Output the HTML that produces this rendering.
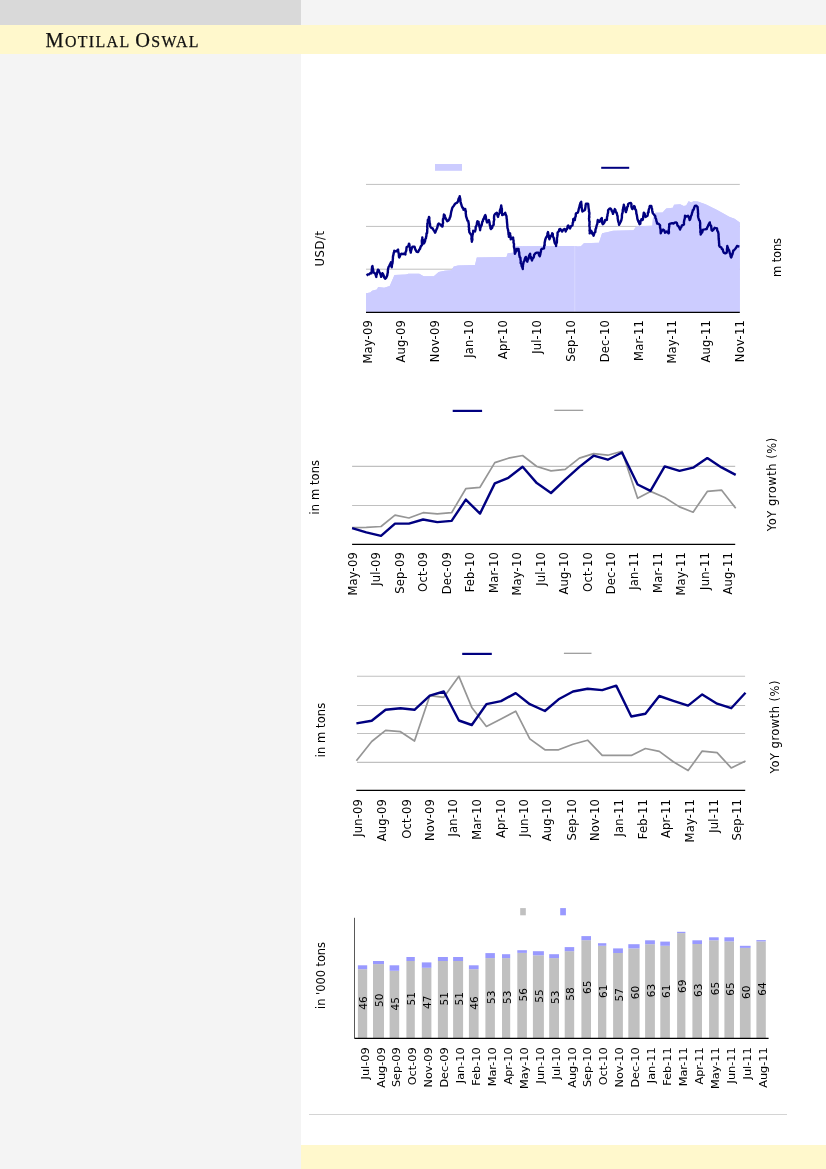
<!DOCTYPE html>
<html lang="en">
<head>
<meta charset="utf-8">
<title>Motilal Oswal</title>
<style>
html, body { margin: 0; padding: 0; }
body { width: 826px; height: 1169px; position: relative; background: #ffffff; overflow: hidden; }
.abs { position: absolute; }
#topgrey { left: 0; top: 0; width: 301px; height: 25px; background: #d9d9d9; }
#toplight { left: 301px; top: 0; width: 525px; height: 25px; background: #f4f4f4; }
#side { left: 0; top: 53px; width: 301px; height: 1116px; background: #f4f4f4; }
#band { left: 0; top: 25px; width: 826px; height: 28.5px; background: #fff8cc; }
#foot { left: 301px; top: 1145px; width: 525px; height: 24px; background: #fff8cc; }
#rule { left: 309px; top: 1114px; width: 478px; height: 1px; background: #d4d4d4; }
#brand { left: 45.5px; top: 26px; height: 28px; line-height: 28px; white-space: nowrap;
  font-family: "Liberation Serif", serif; color: #111; -webkit-text-stroke: 0.25px #111; font-size: 15.9px; letter-spacing: 1.35px; }
#brand b { font-weight: normal; font-size: 20.4px; }
svg { left: 0; top: 0; }
svg text { font-family: "DejaVu Sans", "Liberation Sans", sans-serif; fill: #000; letter-spacing: 0.2px; }
svg text.t { letter-spacing: 0; }
</style>
</head>
<body>
<div class="abs" id="topgrey"></div>
<div class="abs" id="toplight"></div>
<div class="abs" id="side"></div>
<div class="abs" id="band"></div>
<div class="abs" id="foot"></div>
<div class="abs" id="rule"></div>
<div class="abs" id="brand"><b>M</b>OTILAL <b>O</b>SWAL</div>
<svg class="abs" width="826" height="1169" viewBox="0 0 826 1169">
<g id="chart1">
<polygon points="366.0,312.3 366.0,293.2 370.3,292.6 372.1,290.8 376.9,289.6 378.2,287.1 384.2,287.7 389.7,285.9 392.1,280.5 394.5,275.0 406.0,274.4 408.4,273.8 419.3,273.8 423.6,276.2 433.8,276.2 438.7,272.0 444.7,270.8 451.4,270.2 453.8,266.6 458.1,265.6 475.0,264.9 476.8,257.5 506.5,256.9 507.7,253.2 514.3,252.6 515.5,246.3 574.8,246.0 577.8,246.6 580.9,246.3 583.9,243.2 599.0,242.7 602.1,233.3 608.1,232.1 613.0,230.8 633.5,230.2 636.2,226.6 645.0,226.0 652.3,225.8 652.9,218.7 655.3,212.7 662.6,212.4 666.2,208.5 672.8,207.8 674.1,204.8 680.1,204.2 683.7,206.0 686.2,205.4 688.6,201.2 691.6,202.4 693.4,201.2 697.7,201.5 705.5,204.2 717.6,210.3 729.7,216.9 734.6,218.7 739.8,222.4 739.8,312.3" fill="#ccccff"/>
<line x1="366.00" y1="184.40" x2="739.80" y2="184.40" stroke="#c0c0c0" stroke-width="1"/>
<line x1="366.00" y1="226.40" x2="739.80" y2="226.40" stroke="#c0c0c0" stroke-width="1"/>
<line x1="366.00" y1="269.20" x2="739.80" y2="269.20" stroke="#c0c0c0" stroke-width="1"/>
<polygon points="366.0,312.3 366.0,293.2 370.3,292.6 372.1,290.8 376.9,289.6 378.2,287.1 384.2,287.7 389.7,285.9 392.1,280.5 394.5,275.0 406.0,274.4 408.4,273.8 419.3,273.8 423.6,276.2 433.8,276.2 438.7,272.0 444.7,270.8 451.4,270.2 453.8,266.6 458.1,265.6 475.0,264.9 476.8,257.5 506.5,256.9 507.7,253.2 514.3,252.6 515.5,246.3 574.8,246.0 577.8,246.6 580.9,246.3 583.9,243.2 599.0,242.7 602.1,233.3 608.1,232.1 613.0,230.8 633.5,230.2 636.2,226.6 645.0,226.0 652.3,225.8 652.9,218.7 655.3,212.7 662.6,212.4 666.2,208.5 672.8,207.8 674.1,204.8 680.1,204.2 683.7,206.0 686.2,205.4 688.6,201.2 691.6,202.4 693.4,201.2 697.7,201.5 705.5,204.2 717.6,210.3 729.7,216.9 734.6,218.7 739.8,222.4 739.8,312.3" fill="#ccccff"/>
<line x1="574.8" y1="246" x2="574.8" y2="312.3" stroke="#dcdcff" stroke-width="0.8"/>
<line x1="366.00" y1="312.30" x2="739.80" y2="312.30" stroke="#000" stroke-width="1.2"/>
<polyline points="366.7,275.6 367.8,274.4 369.1,274.4 370.4,273.0 371.5,273.2 371.7,271.5 371.7,270.3 371.9,268.8 372.1,266.7 372.5,266.0 372.7,268.1 372.9,268.5 373.4,271.3 373.6,272.0 374.3,273.0 375.2,273.6 375.8,275.3 376.3,276.9 376.4,274.8 376.8,274.5 377.1,272.7 377.6,270.8 377.9,269.6 378.6,270.0 379.1,271.5 380.0,273.2 380.7,274.9 381.2,276.9 381.7,275.2 382.4,273.2 383.1,274.2 383.9,276.3 384.3,277.5 385.1,278.7 386.2,277.8 387.2,275.6 387.5,273.8 387.9,272.1 387.8,271.9 387.9,270.0 388.1,268.9 388.5,267.2 389.2,266.1 389.9,264.4 390.4,263.7 390.9,262.3 391.2,263.9 391.6,266.4 391.7,267.2 391.9,266.0 391.9,264.6 392.4,263.7 392.7,261.0 392.7,259.9 392.9,258.9 392.9,257.2 393.2,255.3 393.4,255.2 393.7,252.9 394.0,252.8 394.3,250.8 396.3,251.4 398.1,249.6 398.1,250.8 398.5,252.9 398.9,254.2 398.8,254.7 399.0,256.9 399.3,257.5 400.2,255.6 400.4,254.6 401.2,253.8 402.5,254.0 404.0,253.8 405.4,254.5 405.4,252.9 405.8,251.7 406.3,250.5 406.4,248.9 406.6,247.2 408.4,246.0 409.0,243.6 409.3,244.1 409.7,246.7 410.0,248.0 410.0,248.6 410.1,250.3 410.3,250.5 410.8,252.6 411.1,250.5 411.7,248.8 412.0,247.5 412.7,246.6 414.5,246.6 414.9,248.2 415.7,250.2 416.7,251.8 418.1,252.0 419.1,249.9 419.9,249.0 420.4,247.5 421.0,245.9 421.7,245.4 422.0,245.0 421.9,242.7 421.8,240.7 422.0,239.7 422.4,238.2 422.3,237.5 422.4,239.8 423.0,239.9 423.3,241.2 423.6,243.6 424.2,243.1 425.0,241.2 425.3,239.2 426.0,238.1 426.0,237.2 426.4,235.8 426.5,233.4 427.0,233.3 427.2,231.6 427.2,229.6 427.4,228.7 427.2,226.9 427.4,224.6 427.3,223.7 427.5,223.1 427.9,221.3 427.8,220.0 428.6,219.3 429.0,216.9 429.4,218.0 429.2,219.2 429.4,220.5 429.7,223.2 430.0,223.8 430.1,225.8 430.2,226.6 431.2,227.8 432.6,228.4 433.6,230.3 434.4,231.2 435.1,232.7 435.5,231.9 436.0,230.6 436.9,228.6 437.1,228.3 437.8,225.6 438.0,224.3 438.7,223.6 440.5,224.8 442.3,226.6 442.7,225.8 442.5,224.5 443.1,222.8 442.9,221.3 443.0,219.0 443.6,218.8 443.6,218.0 443.7,216.5 443.9,214.5 444.7,215.3 445.1,216.8 445.8,218.7 446.4,219.7 447.2,221.2 448.2,220.7 449.6,218.7 449.9,217.3 450.3,216.9 450.6,215.6 450.9,213.6 451.3,211.4 451.6,210.5 451.7,210.3 452.1,208.4 452.6,207.2 453.7,206.0 454.5,204.6 455.6,203.3 456.8,202.9 458.0,201.5 458.2,200.3 458.7,198.4 459.4,197.5 459.7,196.2 460.0,198.0 460.3,198.8 460.4,200.3 460.6,202.0 460.8,203.0 461.3,204.4 461.9,206.5 462.5,207.7 463.2,207.9 463.5,209.7 465.3,209.1 465.5,211.3 465.9,211.2 465.7,213.2 465.9,214.2 466.1,216.4 466.5,217.5 467.2,219.6 467.4,220.6 468.2,221.0 468.6,223.0 468.9,225.1 468.7,226.4 468.8,226.9 469.2,228.8 468.9,229.4 469.2,230.5 469.3,232.1 470.1,233.3 471.3,235.1 471.5,235.6 471.6,237.6 471.4,238.8 471.8,240.4 471.9,241.7 471.8,241.2 472.4,239.8 472.2,237.2 472.3,236.8 472.6,234.2 472.8,234.3 473.2,231.7 473.2,230.8 475.0,231.5 475.1,231.0 475.6,229.3 475.7,226.8 476.3,226.2 476.3,225.9 476.9,224.3 476.9,223.1 477.4,221.2 478.6,221.8 478.6,223.9 479.1,224.3 479.4,226.8 479.5,226.7 479.9,228.3 480.1,230.2 480.3,228.3 480.6,227.1 481.2,226.0 481.8,224.7 482.0,223.2 482.3,221.6 482.8,221.2 483.2,219.1 483.9,218.9 484.1,217.5 485.0,215.6 485.3,215.1 485.8,216.4 486.0,218.6 486.3,219.5 486.8,221.8 487.1,222.4 487.9,221.8 488.9,220.0 489.3,221.5 489.5,222.3 489.6,223.2 489.9,225.6 490.3,225.8 490.5,228.3 491.0,229.0 492.1,227.9 492.7,225.7 493.7,224.8 493.7,223.3 493.7,221.9 493.8,221.5 494.3,219.3 494.0,218.7 494.1,216.2 494.3,215.1 495.3,213.7 496.8,212.7 497.2,214.1 497.5,215.5 498.0,216.9 498.4,215.1 499.0,213.9 499.8,212.7 499.9,210.4 500.3,209.3 500.7,208.4 501.0,207.1 501.2,205.4 501.5,207.5 501.4,207.9 501.9,208.9 501.9,211.2 501.7,212.9 502.3,213.9 502.2,215.1 503.8,214.5 505.2,212.7 505.7,214.5 506.5,216.3 506.6,218.3 506.9,219.7 506.9,221.3 507.1,222.3 507.0,222.5 507.3,224.8 507.3,225.9 507.5,228.1 507.9,229.1 508.1,230.5 508.2,230.6 508.5,233.3 508.5,234.3 508.8,234.8 508.9,236.9 509.6,234.7 510.1,233.3 510.0,234.4 510.5,235.8 510.7,238.7 510.7,239.3 511.9,238.2 513.1,237.5 513.2,239.2 513.5,240.4 513.6,240.8 513.5,242.5 514.0,243.9 514.0,244.8 513.9,246.6 514.4,248.7 514.5,249.3 514.6,251.0 514.7,251.8 514.9,253.8 515.7,251.7 516.3,251.4 516.7,249.0 518.6,249.0 518.6,250.2 519.2,252.5 519.2,252.5 519.3,255.1 519.5,255.7 519.7,257.0 520.4,257.6 520.5,259.6 520.8,261.2 520.6,262.9 521.0,263.5 521.4,264.0 521.7,266.2 522.3,267.3 522.8,269.0 522.7,267.4 522.9,266.9 522.9,265.4 523.4,263.0 523.4,262.3 524.2,261.3 524.8,259.2 525.1,258.1 525.8,256.9 526.5,258.7 526.7,260.0 527.3,261.7 527.7,259.6 528.0,259.7 528.6,258.5 529.0,256.0 529.6,254.6 530.1,253.8 530.4,256.0 531.0,257.0 531.2,258.6 531.8,259.2 531.9,260.5 532.6,258.5 533.2,258.0 533.8,257.1 534.2,254.8 535.1,253.7 535.5,253.2 537.0,252.6 538.5,252.6 539.0,254.9 539.7,256.3 540.3,254.4 540.5,253.0 540.9,251.7 541.1,249.9 541.6,249.0 544.0,248.4 544.0,247.8 544.3,245.2 544.7,245.2 544.6,243.0 545.0,241.0 545.3,239.5 545.8,238.2 546.2,237.1 546.8,236.9 547.3,234.7 547.5,233.5 548.0,232.1 548.2,233.2 548.3,234.6 549.1,235.7 549.1,238.1 549.4,239.3 550.1,237.6 550.4,236.4 551.0,235.6 551.9,235.1 552.2,233.3 552.8,233.9 552.8,236.6 553.6,237.6 553.8,238.2 554.2,240.5 554.6,242.6 555.3,243.9 555.9,244.2 556.1,246.0 556.1,244.0 556.5,243.5 556.9,242.2 556.9,240.9 557.0,239.1 556.9,238.2 557.2,237.0 557.6,234.5 557.5,233.0 557.9,232.1 558.8,231.4 559.3,229.3 560.3,229.0 561.2,230.4 562.1,231.5 563.2,229.8 564.5,229.0 565.2,229.4 565.7,231.5 566.1,230.2 566.9,229.3 567.4,227.8 567.6,226.2 568.2,225.4 569.3,227.3 570.0,228.4 571.1,226.0 572.4,225.4 572.6,224.4 572.8,222.3 573.2,222.1 573.2,219.2 573.6,218.7 574.8,220.0 575.0,218.5 575.4,216.8 575.7,216.4 575.8,214.1 576.0,213.3 577.8,212.7 578.4,210.9 578.7,209.3 578.8,208.8 579.2,207.7 579.7,205.4 580.4,203.0 581.2,201.8 581.2,203.0 581.6,205.4 581.5,205.8 581.7,208.2 581.9,207.9 582.0,209.9 582.4,211.5 584.5,210.3 585.0,209.7 585.2,208.5 585.6,206.0 585.5,205.7 586.0,203.6 587.8,203.6 588.2,204.1 588.4,206.1 588.5,207.3 588.6,208.1 589.0,210.3 588.9,211.4 589.3,212.3 589.4,213.8 589.1,216.3 589.4,216.9 589.0,218.4 589.2,220.5 589.2,220.9 589.6,221.6 589.4,224.4 589.6,224.4 589.3,225.7 589.7,227.5 589.7,230.0 589.5,230.2 589.9,232.2 589.7,233.3 590.3,232.4 591.2,230.8 591.7,231.6 592.2,233.7 593.2,234.7 593.6,235.7 594.3,233.4 594.4,232.7 595.3,232.1 595.5,229.4 596.0,228.4 596.3,227.0 596.8,225.0 597.1,224.6 597.4,223.3 597.6,221.1 597.8,220.0 599.6,221.8 600.2,220.3 601.2,218.6 601.8,218.1 601.9,220.1 602.1,220.4 602.2,222.8 602.7,224.2 603.4,223.7 604.5,222.3 605.1,220.0 606.9,220.0 607.0,217.9 607.0,217.2 607.5,215.7 607.5,214.3 607.8,213.4 608.1,212.3 608.1,210.3 609.4,208.7 610.5,208.5 611.3,209.5 611.8,211.0 612.5,212.0 613.0,213.9 613.5,211.8 614.0,211.4 614.8,209.1 615.4,210.0 615.9,212.4 616.6,212.7 616.9,213.6 617.3,215.7 617.6,216.0 617.7,218.7 618.1,220.2 618.0,220.4 618.3,221.6 619.0,223.6 619.0,224.8 619.8,223.4 620.4,222.3 620.7,221.7 621.4,220.0 621.8,217.9 621.9,217.5 621.9,215.6 622.1,213.9 622.4,213.3 622.8,211.2 622.7,210.0 623.2,208.4 623.3,207.0 623.7,206.3 623.8,204.8 624.0,205.5 624.6,207.8 625.2,208.4 625.4,211.0 626.0,212.1 626.3,210.4 626.6,210.3 627.0,208.3 627.3,206.7 627.9,206.4 628.1,204.2 629.4,203.1 630.9,203.0 631.4,204.0 631.4,206.8 631.9,208.2 632.3,209.1 633.2,208.2 634.1,206.0 634.7,206.8 635.1,209.0 636.0,210.3 636.3,212.4 636.3,213.3 636.7,214.5 636.9,215.5 637.3,218.0 637.3,218.6 637.8,220.0 638.6,222.2 638.8,222.1 639.6,224.2 640.3,223.8 640.5,220.9 641.2,220.3 641.4,219.3 642.6,220.0 643.0,218.8 643.2,216.5 643.5,215.1 643.5,214.8 643.8,212.7 644.6,213.5 644.9,215.3 645.6,216.9 647.5,215.8 647.8,214.2 648.0,212.5 648.6,212.3 648.6,210.3 649.3,208.0 649.6,206.7 649.8,206.0 651.3,206.0 651.7,207.6 652.0,208.6 652.2,210.5 652.5,212.1 652.9,213.3 654.1,214.7 655.3,216.3 655.4,218.0 656.0,218.7 656.5,221.2 656.7,221.6 657.1,223.6 658.6,223.8 660.1,225.4 660.0,226.6 660.1,227.9 660.4,228.5 660.6,229.9 660.7,232.5 660.7,233.3 661.5,231.3 662.4,230.6 663.2,229.6 664.3,230.5 665.0,232.7 666.8,231.5 668.6,233.3 668.9,232.9 668.9,231.3 668.7,230.3 668.9,228.9 669.2,226.2 669.3,226.3 669.2,224.2 670.4,223.7 672.2,223.2 673.5,223.6 674.9,222.6 675.9,222.4 676.9,223.0 677.5,225.6 678.3,226.0 678.8,226.8 679.5,228.1 680.1,229.6 680.5,227.6 681.1,227.6 681.9,225.4 683.7,224.8 684.0,224.2 683.9,222.7 684.1,221.0 684.5,219.3 684.8,218.4 684.9,217.7 685.0,215.7 686.3,216.6 688.0,215.7 688.6,216.9 689.2,218.1 689.6,220.0 690.3,218.9 690.5,218.0 691.1,215.7 691.6,215.1 692.1,212.7 692.6,211.5 692.8,210.3 693.6,209.7 694.2,207.7 694.9,206.0 696.2,205.7 697.7,207.2 697.6,208.0 697.9,210.0 698.0,212.3 697.9,212.6 698.2,213.7 698.0,215.8 698.3,217.5 698.6,218.5 699.1,220.1 699.7,220.6 700.1,222.4 700.2,223.7 700.1,225.9 700.2,225.8 700.2,228.0 700.6,229.6 700.5,230.0 700.3,232.1 700.7,232.9 700.7,234.5 701.4,233.2 702.1,232.5 702.4,231.6 703.1,229.6 704.7,229.4 706.7,229.0 707.3,227.2 707.7,226.9 708.3,225.1 709.4,223.1 709.8,222.4 710.0,224.0 710.6,225.5 711.2,226.0 711.3,227.6 711.6,230.1 712.2,230.8 713.5,229.7 714.6,227.8 717.0,228.4 717.2,230.5 717.9,231.4 718.3,232.9 718.6,234.5 718.5,235.2 718.6,236.4 718.7,239.0 718.9,240.6 719.0,240.9 719.0,242.6 719.2,244.1 719.1,245.4 719.9,246.9 721.2,247.3 721.9,249.0 722.7,249.3 723.0,250.9 723.7,252.6 725.3,253.4 726.7,252.6 726.9,251.0 727.1,249.7 726.9,249.4 727.2,247.7 727.3,246.0 728.0,248.3 728.5,249.4 729.1,250.2 729.6,252.3 729.9,253.5 730.4,254.2 730.6,256.3 731.2,257.5 731.5,257.0 732.0,254.2 732.4,254.6 733.0,252.0 733.3,250.6 734.0,250.2 735.1,249.0 736.1,247.8 737.0,246.0 739.4,246.6" fill="none" stroke="#000080" stroke-width="2.4" stroke-linejoin="round" stroke-linecap="butt"/>
<rect x="435" y="164" width="27" height="6.8" fill="#ccccff"/>
<line x1="601.20" y1="167.80" x2="629.20" y2="167.80" stroke="#000080" stroke-width="2"/>
<text transform="translate(371.60 320.00) rotate(-90)" text-anchor="end" font-size="11.5">May-09</text>
<text transform="translate(405.47 320.00) rotate(-90)" text-anchor="end" font-size="11.5">Aug-09</text>
<text transform="translate(439.34 320.00) rotate(-90)" text-anchor="end" font-size="11.5">Nov-09</text>
<text transform="translate(473.21 320.00) rotate(-90)" text-anchor="end" font-size="11.5">Jan-10</text>
<text transform="translate(507.08 320.00) rotate(-90)" text-anchor="end" font-size="11.5">Apr-10</text>
<text transform="translate(540.95 320.00) rotate(-90)" text-anchor="end" font-size="11.5">Jul-10</text>
<text transform="translate(574.82 320.00) rotate(-90)" text-anchor="end" font-size="11.5">Sep-10</text>
<text transform="translate(608.69 320.00) rotate(-90)" text-anchor="end" font-size="11.5">Dec-10</text>
<text transform="translate(642.56 320.00) rotate(-90)" text-anchor="end" font-size="11.5">Mar-11</text>
<text transform="translate(676.43 320.00) rotate(-90)" text-anchor="end" font-size="11.5">May-11</text>
<text transform="translate(710.30 320.00) rotate(-90)" text-anchor="end" font-size="11.5">Aug-11</text>
<text transform="translate(744.17 320.00) rotate(-90)" text-anchor="end" font-size="11.5">Nov-11</text>
<text transform="translate(323.90 248.70) rotate(-90)" text-anchor="middle" font-size="11.5" class="t" textLength="35.5">USD/t</text>
<text transform="translate(781.30 257.40) rotate(-90)" text-anchor="middle" font-size="11.5" class="t" textLength="39">m tons</text>
</g>
<g id="chart2">
<line x1="352.10" y1="466.40" x2="735.20" y2="466.40" stroke="#c0c0c0" stroke-width="1.1"/>
<line x1="352.10" y1="505.50" x2="735.20" y2="505.50" stroke="#c0c0c0" stroke-width="1.1"/>
<line x1="352.10" y1="544.40" x2="735.20" y2="544.40" stroke="#000" stroke-width="1.2"/>
<polyline points="352.1,527.7 366.3,527.4 381.0,526.5 395.0,515.1 408.9,518.0 423.1,512.7 437.3,513.9 451.6,512.7 465.8,488.7 480.0,487.3 494.8,462.6 508.4,458.2 522.6,455.5 536.8,466.5 551.0,470.9 565.2,469.3 579.4,458.1 593.6,453.6 607.8,455.2 622.0,451.2 637.6,498.3 650.5,491.4 664.7,497.5 679.5,506.9 693.1,512.2 707.3,491.4 721.5,490.1 735.7,508.2" fill="none" stroke="#969696" stroke-width="1.7" stroke-linejoin="round" stroke-linecap="butt"/>
<polyline points="352.1,528.2 366.3,532.3 381.0,535.9 395.0,523.6 408.9,523.6 423.1,519.5 437.3,522.1 451.6,520.9 465.8,499.6 480.0,513.6 494.8,483.4 508.4,477.8 522.6,466.7 536.8,483.1 551.0,493.0 565.2,479.7 579.4,466.9 593.6,455.7 607.8,459.7 622.0,452.5 637.6,484.5 650.5,490.9 664.7,466.4 679.5,470.9 693.1,467.7 707.3,458.1 721.5,467.4 735.7,474.9" fill="none" stroke="#000080" stroke-width="2.4" stroke-linejoin="round" stroke-linecap="butt"/>
<line x1="452.70" y1="410.90" x2="482.10" y2="410.90" stroke="#000080" stroke-width="2.2"/>
<line x1="554.30" y1="410.30" x2="583.20" y2="410.30" stroke="#969696" stroke-width="1.2"/>
<text transform="translate(357.00 552.00) rotate(-90)" text-anchor="end" font-size="11.5">May-09</text>
<text transform="translate(380.45 552.00) rotate(-90)" text-anchor="end" font-size="11.5">Jul-09</text>
<text transform="translate(403.90 552.00) rotate(-90)" text-anchor="end" font-size="11.5">Sep-09</text>
<text transform="translate(427.35 552.00) rotate(-90)" text-anchor="end" font-size="11.5">Oct-09</text>
<text transform="translate(450.80 552.00) rotate(-90)" text-anchor="end" font-size="11.5">Dec-09</text>
<text transform="translate(474.25 552.00) rotate(-90)" text-anchor="end" font-size="11.5">Feb-10</text>
<text transform="translate(497.70 552.00) rotate(-90)" text-anchor="end" font-size="11.5">Mar-10</text>
<text transform="translate(521.15 552.00) rotate(-90)" text-anchor="end" font-size="11.5">May-10</text>
<text transform="translate(544.60 552.00) rotate(-90)" text-anchor="end" font-size="11.5">Jul-10</text>
<text transform="translate(568.05 552.00) rotate(-90)" text-anchor="end" font-size="11.5">Aug-10</text>
<text transform="translate(591.50 552.00) rotate(-90)" text-anchor="end" font-size="11.5">Oct-10</text>
<text transform="translate(614.95 552.00) rotate(-90)" text-anchor="end" font-size="11.5">Dec-10</text>
<text transform="translate(638.40 552.00) rotate(-90)" text-anchor="end" font-size="11.5">Jan-11</text>
<text transform="translate(661.85 552.00) rotate(-90)" text-anchor="end" font-size="11.5">Mar-11</text>
<text transform="translate(685.30 552.00) rotate(-90)" text-anchor="end" font-size="11.5">May-11</text>
<text transform="translate(708.75 552.00) rotate(-90)" text-anchor="end" font-size="11.5">Jun-11</text>
<text transform="translate(732.20 552.00) rotate(-90)" text-anchor="end" font-size="11.5">Aug-11</text>
<text transform="translate(319.20 487.20) rotate(-90)" text-anchor="middle" font-size="11.5" class="t" textLength="54.5">in m tons</text>
<text transform="translate(775.60 484.60) rotate(-90)" text-anchor="middle" font-size="11.5" class="t" textLength="93.5">YoY growth (%)</text>
</g>
<g id="chart3">
<line x1="357.00" y1="676.30" x2="745.10" y2="676.30" stroke="#c0c0c0" stroke-width="1.1"/>
<line x1="357.00" y1="705.50" x2="745.10" y2="705.50" stroke="#c0c0c0" stroke-width="1.1"/>
<line x1="357.00" y1="733.50" x2="745.10" y2="733.50" stroke="#c0c0c0" stroke-width="1.1"/>
<line x1="357.00" y1="762.40" x2="745.10" y2="762.40" stroke="#c0c0c0" stroke-width="1.1"/>
<line x1="356.30" y1="790.30" x2="745.20" y2="790.30" stroke="#000" stroke-width="1.2"/>
<polyline points="356.4,760.7 371.7,741.5 385.6,730.4 400.5,731.7 414.5,741.0 429.8,695.7 443.8,697.3 458.9,676.3 471.8,707.4 486.4,726.4 501.0,718.9 515.7,711.2 529.8,738.9 544.9,749.8 558.6,749.8 573.0,744.2 587.6,740.2 602.2,755.4 616.2,755.4 631.3,755.4 645.4,748.5 659.3,751.4 673.3,761.8 688.1,770.6 702.2,751.1 717.1,752.7 731.2,767.9 745.5,761.0" fill="none" stroke="#969696" stroke-width="1.7" stroke-linejoin="round" stroke-linecap="butt"/>
<polyline points="356.4,723.4 371.7,720.8 385.6,709.8 400.5,708.2 414.5,709.8 429.8,695.7 443.8,691.5 458.9,720.5 471.8,725.0 486.4,704.2 501.0,701.1 515.7,693.1 529.8,704.2 544.9,711.0 558.6,699.3 573.0,691.5 587.6,688.8 602.2,690.1 616.2,685.6 631.3,716.5 645.4,713.8 659.3,696.0 673.3,700.8 688.1,705.6 702.2,694.4 717.1,703.7 731.2,708.2 745.5,692.8" fill="none" stroke="#000080" stroke-width="2.4" stroke-linejoin="round" stroke-linecap="butt"/>
<line x1="462.20" y1="653.90" x2="491.80" y2="653.90" stroke="#000080" stroke-width="2.2"/>
<line x1="563.90" y1="653.30" x2="591.50" y2="653.30" stroke="#969696" stroke-width="1.2"/>
<text transform="translate(361.90 798.90) rotate(-90)" text-anchor="end" font-size="11.5">Jun-09</text>
<text transform="translate(385.50 798.90) rotate(-90)" text-anchor="end" font-size="11.5">Aug-09</text>
<text transform="translate(410.70 798.90) rotate(-90)" text-anchor="end" font-size="11.5">Oct-09</text>
<text transform="translate(434.30 798.90) rotate(-90)" text-anchor="end" font-size="11.5">Nov-09</text>
<text transform="translate(456.60 798.90) rotate(-90)" text-anchor="end" font-size="11.5">Jan-10</text>
<text transform="translate(480.60 798.90) rotate(-90)" text-anchor="end" font-size="11.5">Mar-10</text>
<text transform="translate(505.10 798.90) rotate(-90)" text-anchor="end" font-size="11.5">Apr-10</text>
<text transform="translate(528.40 798.90) rotate(-90)" text-anchor="end" font-size="11.5">Jun-10</text>
<text transform="translate(551.40 798.90) rotate(-90)" text-anchor="end" font-size="11.5">Aug-10</text>
<text transform="translate(575.80 798.90) rotate(-90)" text-anchor="end" font-size="11.5">Sep-10</text>
<text transform="translate(599.40 798.90) rotate(-90)" text-anchor="end" font-size="11.5">Nov-10</text>
<text transform="translate(623.00 798.90) rotate(-90)" text-anchor="end" font-size="11.5">Jan-11</text>
<text transform="translate(647.20 798.90) rotate(-90)" text-anchor="end" font-size="11.5">Feb-11</text>
<text transform="translate(670.20 798.90) rotate(-90)" text-anchor="end" font-size="11.5">Apr-11</text>
<text transform="translate(693.80 798.90) rotate(-90)" text-anchor="end" font-size="11.5">May-11</text>
<text transform="translate(718.30 798.90) rotate(-90)" text-anchor="end" font-size="11.5">Jul-11</text>
<text transform="translate(741.00 798.90) rotate(-90)" text-anchor="end" font-size="11.5">Sep-11</text>
<text transform="translate(324.90 730.10) rotate(-90)" text-anchor="middle" font-size="11.5" class="t" textLength="54.5">in m tons</text>
<text transform="translate(779.40 727.00) rotate(-90)" text-anchor="middle" font-size="11.5" class="t" textLength="93">YoY growth (%)</text>
</g>
<g id="chart4">
<rect x="357.90" y="969.2" width="9.30" height="69.2" fill="#c0c0c0"/>
<rect x="357.90" y="965.3" width="9.30" height="3.9" fill="#9999ff"/>
<rect x="373.00" y="964.1" width="11.00" height="74.3" fill="#c0c0c0"/>
<rect x="373.00" y="961.0" width="11.00" height="3.1" fill="#9999ff"/>
<rect x="389.60" y="970.8" width="9.60" height="67.6" fill="#c0c0c0"/>
<rect x="389.60" y="965.3" width="9.60" height="5.5" fill="#9999ff"/>
<rect x="406.40" y="961.0" width="8.40" height="77.4" fill="#c0c0c0"/>
<rect x="406.40" y="957.0" width="8.40" height="4.0" fill="#9999ff"/>
<rect x="421.80" y="967.8" width="9.60" height="70.6" fill="#c0c0c0"/>
<rect x="421.80" y="962.4" width="9.60" height="5.4" fill="#9999ff"/>
<rect x="437.90" y="961.0" width="10.00" height="77.4" fill="#c0c0c0"/>
<rect x="437.90" y="957.0" width="10.00" height="4.0" fill="#9999ff"/>
<rect x="453.10" y="961.0" width="10.00" height="77.4" fill="#c0c0c0"/>
<rect x="453.10" y="957.0" width="10.00" height="4.0" fill="#9999ff"/>
<rect x="468.90" y="969.2" width="9.70" height="69.2" fill="#c0c0c0"/>
<rect x="468.90" y="965.3" width="9.70" height="3.9" fill="#9999ff"/>
<rect x="485.40" y="958.1" width="9.50" height="80.3" fill="#c0c0c0"/>
<rect x="485.40" y="953.1" width="9.50" height="5.0" fill="#9999ff"/>
<rect x="502.00" y="958.1" width="8.20" height="80.3" fill="#c0c0c0"/>
<rect x="502.00" y="954.2" width="8.20" height="3.9" fill="#9999ff"/>
<rect x="517.30" y="952.9" width="9.60" height="85.5" fill="#c0c0c0"/>
<rect x="517.30" y="950.2" width="9.60" height="2.7" fill="#9999ff"/>
<rect x="532.90" y="955.3" width="11.00" height="83.1" fill="#c0c0c0"/>
<rect x="532.90" y="951.2" width="11.00" height="4.1" fill="#9999ff"/>
<rect x="549.20" y="958.1" width="9.80" height="80.3" fill="#c0c0c0"/>
<rect x="549.20" y="954.2" width="9.80" height="3.9" fill="#9999ff"/>
<rect x="564.70" y="951.2" width="9.50" height="87.2" fill="#c0c0c0"/>
<rect x="564.70" y="947.1" width="9.50" height="4.1" fill="#9999ff"/>
<rect x="581.40" y="940.2" width="9.60" height="98.2" fill="#c0c0c0"/>
<rect x="581.40" y="936.1" width="9.60" height="4.1" fill="#9999ff"/>
<rect x="598.00" y="945.8" width="8.30" height="92.6" fill="#c0c0c0"/>
<rect x="598.00" y="943.2" width="8.30" height="2.6" fill="#9999ff"/>
<rect x="613.10" y="953.0" width="9.80" height="85.4" fill="#c0c0c0"/>
<rect x="613.10" y="948.4" width="9.80" height="4.6" fill="#9999ff"/>
<rect x="628.30" y="948.4" width="11.30" height="90.0" fill="#c0c0c0"/>
<rect x="628.30" y="944.2" width="11.30" height="4.2" fill="#9999ff"/>
<rect x="645.10" y="944.2" width="9.80" height="94.2" fill="#c0c0c0"/>
<rect x="645.10" y="940.3" width="9.80" height="3.9" fill="#9999ff"/>
<rect x="660.30" y="945.8" width="9.60" height="92.6" fill="#c0c0c0"/>
<rect x="660.30" y="941.6" width="9.60" height="4.2" fill="#9999ff"/>
<rect x="677.10" y="933.1" width="8.30" height="105.3" fill="#c0c0c0"/>
<rect x="677.10" y="931.8" width="8.30" height="1.3" fill="#9999ff"/>
<rect x="692.40" y="944.0" width="9.60" height="94.4" fill="#c0c0c0"/>
<rect x="692.40" y="940.3" width="9.60" height="3.7" fill="#9999ff"/>
<rect x="709.10" y="940.3" width="9.60" height="98.1" fill="#c0c0c0"/>
<rect x="709.10" y="937.3" width="9.60" height="3.0" fill="#9999ff"/>
<rect x="724.40" y="941.4" width="9.60" height="97.0" fill="#c0c0c0"/>
<rect x="724.40" y="937.3" width="9.60" height="4.1" fill="#9999ff"/>
<rect x="739.90" y="947.9" width="10.70" height="90.5" fill="#c0c0c0"/>
<rect x="739.90" y="945.8" width="10.70" height="2.1" fill="#9999ff"/>
<rect x="756.40" y="941.4" width="9.40" height="97.0" fill="#c0c0c0"/>
<rect x="756.40" y="940.1" width="9.40" height="1.3" fill="#9999ff"/>
<text transform="translate(367.25 1002.90) rotate(-90)" text-anchor="middle" font-size="10.6" class="t">46</text>
<text transform="translate(383.20 1000.35) rotate(-90)" text-anchor="middle" font-size="10.6" class="t">50</text>
<text transform="translate(399.10 1003.70) rotate(-90)" text-anchor="middle" font-size="10.6" class="t">45</text>
<text transform="translate(415.30 998.80) rotate(-90)" text-anchor="middle" font-size="10.6" class="t">51</text>
<text transform="translate(431.30 1002.20) rotate(-90)" text-anchor="middle" font-size="10.6" class="t">47</text>
<text transform="translate(447.60 998.80) rotate(-90)" text-anchor="middle" font-size="10.6" class="t">51</text>
<text transform="translate(462.80 998.80) rotate(-90)" text-anchor="middle" font-size="10.6" class="t">51</text>
<text transform="translate(478.45 1002.90) rotate(-90)" text-anchor="middle" font-size="10.6" class="t">46</text>
<text transform="translate(494.85 997.35) rotate(-90)" text-anchor="middle" font-size="10.6" class="t">53</text>
<text transform="translate(510.80 997.35) rotate(-90)" text-anchor="middle" font-size="10.6" class="t">53</text>
<text transform="translate(526.80 994.75) rotate(-90)" text-anchor="middle" font-size="10.6" class="t">56</text>
<text transform="translate(543.10 995.95) rotate(-90)" text-anchor="middle" font-size="10.6" class="t">55</text>
<text transform="translate(558.80 997.35) rotate(-90)" text-anchor="middle" font-size="10.6" class="t">53</text>
<text transform="translate(574.15 993.90) rotate(-90)" text-anchor="middle" font-size="10.6" class="t">58</text>
<text transform="translate(590.90 987.20) rotate(-90)" text-anchor="middle" font-size="10.6" class="t">65</text>
<text transform="translate(606.85 991.20) rotate(-90)" text-anchor="middle" font-size="10.6" class="t">61</text>
<text transform="translate(622.70 994.80) rotate(-90)" text-anchor="middle" font-size="10.6" class="t">57</text>
<text transform="translate(638.65 992.50) rotate(-90)" text-anchor="middle" font-size="10.6" class="t">60</text>
<text transform="translate(654.70 990.40) rotate(-90)" text-anchor="middle" font-size="10.6" class="t">63</text>
<text transform="translate(669.80 991.20) rotate(-90)" text-anchor="middle" font-size="10.6" class="t">61</text>
<text transform="translate(685.95 986.35) rotate(-90)" text-anchor="middle" font-size="10.6" class="t">69</text>
<text transform="translate(701.90 990.30) rotate(-90)" text-anchor="middle" font-size="10.6" class="t">63</text>
<text transform="translate(718.60 988.45) rotate(-90)" text-anchor="middle" font-size="10.6" class="t">65</text>
<text transform="translate(733.90 989.00) rotate(-90)" text-anchor="middle" font-size="10.6" class="t">65</text>
<text transform="translate(749.95 992.25) rotate(-90)" text-anchor="middle" font-size="10.6" class="t">60</text>
<text transform="translate(765.80 989.00) rotate(-90)" text-anchor="middle" font-size="10.6" class="t">64</text>
<line x1="354.5" y1="917.8" x2="354.5" y2="1038.4" stroke="#222" stroke-width="0.75"/>
<line x1="354.50" y1="1038.40" x2="768.60" y2="1038.40" stroke="#000" stroke-width="1.2"/>
<rect x="520.2" y="908.1" width="5.6" height="7.2" fill="#c0c0c0"/>
<rect x="560.2" y="908.1" width="5.7" height="7.2" fill="#9999ff"/>
<text transform="translate(368.60 1047.30) rotate(-90)" text-anchor="end" font-size="11.3" class="t">Jul-09</text>
<text transform="translate(384.52 1047.30) rotate(-90)" text-anchor="end" font-size="11.3" class="t">Aug-09</text>
<text transform="translate(400.44 1047.30) rotate(-90)" text-anchor="end" font-size="11.3" class="t">Sep-09</text>
<text transform="translate(416.36 1047.30) rotate(-90)" text-anchor="end" font-size="11.3" class="t">Oct-09</text>
<text transform="translate(432.28 1047.30) rotate(-90)" text-anchor="end" font-size="11.3" class="t">Nov-09</text>
<text transform="translate(448.20 1047.30) rotate(-90)" text-anchor="end" font-size="11.3" class="t">Dec-09</text>
<text transform="translate(464.12 1047.30) rotate(-90)" text-anchor="end" font-size="11.3" class="t">Jan-10</text>
<text transform="translate(480.04 1047.30) rotate(-90)" text-anchor="end" font-size="11.3" class="t">Feb-10</text>
<text transform="translate(495.96 1047.30) rotate(-90)" text-anchor="end" font-size="11.3" class="t">Mar-10</text>
<text transform="translate(511.88 1047.30) rotate(-90)" text-anchor="end" font-size="11.3" class="t">Apr-10</text>
<text transform="translate(527.80 1047.30) rotate(-90)" text-anchor="end" font-size="11.3" class="t">May-10</text>
<text transform="translate(543.72 1047.30) rotate(-90)" text-anchor="end" font-size="11.3" class="t">Jun-10</text>
<text transform="translate(559.64 1047.30) rotate(-90)" text-anchor="end" font-size="11.3" class="t">Jul-10</text>
<text transform="translate(575.56 1047.30) rotate(-90)" text-anchor="end" font-size="11.3" class="t">Aug-10</text>
<text transform="translate(591.48 1047.30) rotate(-90)" text-anchor="end" font-size="11.3" class="t">Sep-10</text>
<text transform="translate(607.40 1047.30) rotate(-90)" text-anchor="end" font-size="11.3" class="t">Oct-10</text>
<text transform="translate(623.32 1047.30) rotate(-90)" text-anchor="end" font-size="11.3" class="t">Nov-10</text>
<text transform="translate(639.24 1047.30) rotate(-90)" text-anchor="end" font-size="11.3" class="t">Dec-10</text>
<text transform="translate(655.16 1047.30) rotate(-90)" text-anchor="end" font-size="11.3" class="t">Jan-11</text>
<text transform="translate(671.08 1047.30) rotate(-90)" text-anchor="end" font-size="11.3" class="t">Feb-11</text>
<text transform="translate(687.00 1047.30) rotate(-90)" text-anchor="end" font-size="11.3" class="t">Mar-11</text>
<text transform="translate(702.92 1047.30) rotate(-90)" text-anchor="end" font-size="11.3" class="t">Apr-11</text>
<text transform="translate(718.84 1047.30) rotate(-90)" text-anchor="end" font-size="11.3" class="t">May-11</text>
<text transform="translate(734.76 1047.30) rotate(-90)" text-anchor="end" font-size="11.3" class="t">Jun-11</text>
<text transform="translate(750.68 1047.30) rotate(-90)" text-anchor="end" font-size="11.3" class="t">Jul-11</text>
<text transform="translate(766.60 1047.30) rotate(-90)" text-anchor="end" font-size="11.3" class="t">Aug-11</text>
<text transform="translate(324.90 975.40) rotate(-90)" text-anchor="middle" font-size="11.5" class="t" textLength="67">in '000 tons</text>
</g>
</svg>
</body>
</html>
